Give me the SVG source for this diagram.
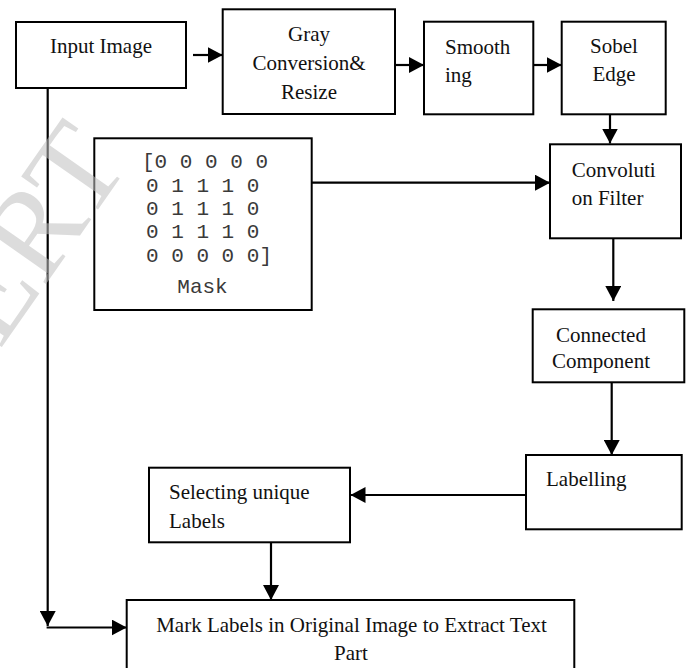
<svg xmlns="http://www.w3.org/2000/svg" width="692" height="668" viewBox="0 0 692 668">
<defs>
<marker id="ah" viewBox="0 0 15 16" refX="15" refY="8" markerWidth="15" markerHeight="16" markerUnits="userSpaceOnUse" orient="auto">
<path d="M0,0 L15,8 L0,16 z" fill="#000"/>
</marker>
<style>
.box{fill:#fff;stroke:#000;stroke-width:2}
.t{font-family:"Liberation Serif","Times New Roman",serif;font-size:21px;fill:#111}
.c{text-anchor:middle}
.m{font-family:"Liberation Mono","Courier New",monospace;font-size:21px;fill:#3a3a3a}
.ln{fill:none;stroke:#000;stroke-width:2.2}
</style>
</defs>
<rect width="692" height="668" fill="#fff"/>
<g id="connectors">
<path class="ln" d="M193,55 H222.7" marker-end="url(#ah)"/>
<path class="ln" d="M395,65 H424" marker-end="url(#ah)"/>
<path class="ln" d="M533,65 H561.7" marker-end="url(#ah)"/>
<path class="ln" d="M610,114 V143.5" marker-end="url(#ah)"/>
<path class="ln" d="M311.7,182.7 H550" marker-end="url(#ah)"/>
<path class="ln" d="M613.3,238 V301" marker-end="url(#ah)"/>
<path class="ln" d="M611.7,382 V455" marker-end="url(#ah)"/>
<path class="ln" d="M526,495 H350.5" marker-end="url(#ah)"/>
<path class="ln" d="M271,542 V600" marker-end="url(#ah)"/>
<path class="ln" d="M47.7,88 V626" marker-end="url(#ah)"/>
<path class="ln" d="M46.6,627.5 H126.7" marker-end="url(#ah)"/>
</g>
<g id="input-image">
<rect class="box" x="16" y="22" width="170" height="66"/>
<text class="t c" x="101" y="53">Input Image</text>
</g>
<g id="gray-conversion">
<rect class="box" x="222.7" y="9.3" width="172.3" height="104.7"/>
<text class="t c" x="309" y="41">Gray</text>
<text class="t c" x="309" y="70">Conversion&amp;</text>
<text class="t c" x="309" y="99">Resize</text>
</g>
<g id="smoothing">
<rect class="box" x="424" y="21.7" width="109.3" height="92.6"/>
<text class="t" x="445" y="54.3">Smooth</text>
<text class="t" x="445" y="81.7">ing</text>
</g>
<g id="sobel-edge">
<rect class="box" x="561.7" y="21.7" width="104" height="92.6"/>
<text class="t c" x="614" y="53.3">Sobel</text>
<text class="t c" x="614" y="81">Edge</text>
</g>
<g id="mask">
<rect class="box" x="94.3" y="138.3" width="217.4" height="171.7"/>
<text class="m" x="142" y="168.3" xml:space="preserve">[0 0 0 0 0</text>
<text class="m" x="146" y="191.7" xml:space="preserve">0 1 1 1 0</text>
<text class="m" x="146" y="215" xml:space="preserve">0 1 1 1 0</text>
<text class="m" x="146" y="238.3" xml:space="preserve">0 1 1 1 0</text>
<text class="m" x="146" y="261.7" xml:space="preserve">0 0 0 0 0]</text>
<text class="m c" x="202.5" y="293.3">Mask</text>
</g>
<g id="convolution-filter">
<rect class="box" x="550" y="144.3" width="131" height="94"/>
<text class="t" x="571.7" y="176.7">Convoluti</text>
<text class="t" x="571.7" y="205">on Filter</text>
</g>
<g id="connected-component">
<rect class="box" x="532.7" y="309.3" width="151.6" height="73"/>
<text class="t c" x="601" y="341.7">Connected</text>
<text class="t c" x="601" y="368.3">Component</text>
</g>
<g id="labelling">
<rect class="box" x="526" y="455" width="155.7" height="74.3"/>
<text class="t" x="546" y="486">Labelling</text>
</g>
<g id="selecting-unique-labels">
<rect class="box" x="149" y="467.7" width="201" height="74.6"/>
<text class="t" x="169" y="499">Selecting unique</text>
<text class="t" x="169" y="528.3">Labels</text>
</g>
<g id="mark-labels">
<rect class="box" x="126.7" y="600" width="447.6" height="90"/>
<text class="t c" x="351.5" y="631.7">Mark Labels in Original Image to Extract Text</text>
<text class="t c" x="351" y="660">Part</text>
</g>
<g id="watermark" opacity="0.55">
<text x="0" y="0" transform="translate(-52 424) rotate(-55)" font-family="Liberation Serif, serif" font-size="125" fill="#c0c0c0">IJERT</text>
</g>
</svg>
